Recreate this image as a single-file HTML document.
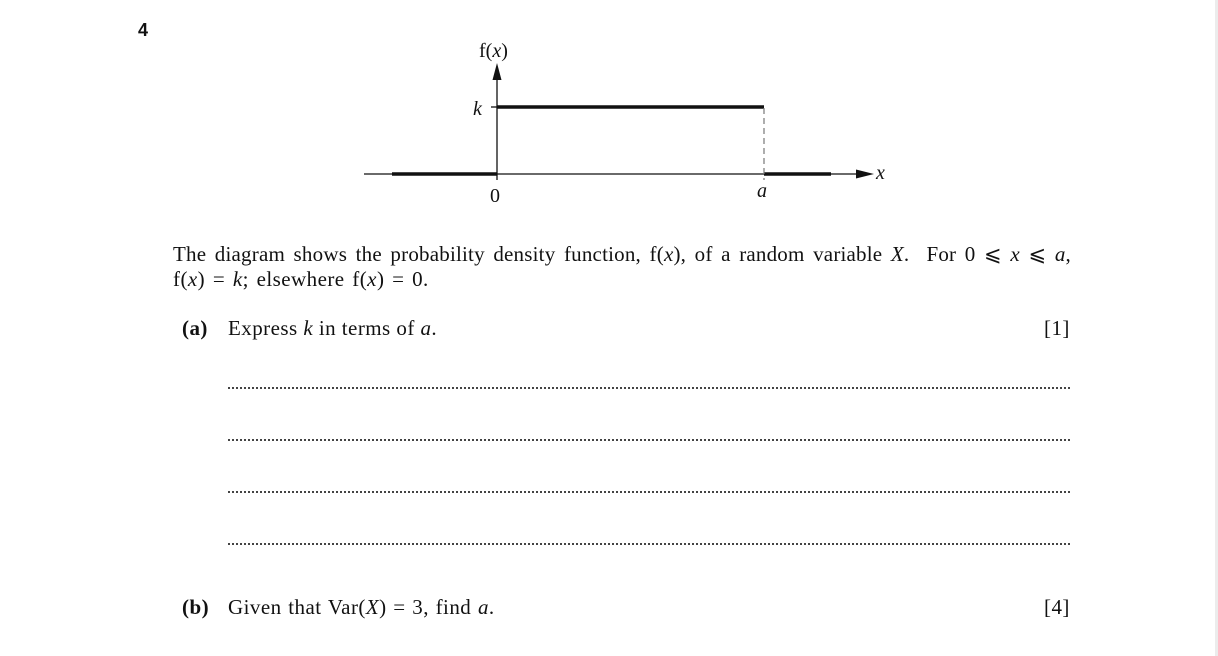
<!DOCTYPE html>
<html><head><meta charset="utf-8"><style>
html,body{margin:0;padding:0;background:#fff;width:1218px;height:656px;overflow:hidden;position:relative}
.t{position:absolute;font-family:"Liberation Serif",serif;font-size:21px;letter-spacing:0.45px;color:#111;white-space:nowrap;line-height:1}
i{font-style:italic}
.dot{position:absolute;left:228px;width:842px;border-top:2px dotted #444;height:0}
</style></head><body>
<div style="position:absolute;right:0;top:0;width:3px;height:656px;background:#ececec"></div>
<div class="t" style="left:138px;top:21px;font-family:'Liberation Sans',sans-serif;font-weight:bold;font-size:18px;letter-spacing:0">4</div>
<svg style="position:absolute;left:0;top:0" width="1218" height="656">
<line x1="364" y1="174" x2="860" y2="174" stroke="#111" stroke-width="1.3"/>
<polygon points="856,169.5 874,174 856,178.5" fill="#111"/>
<line x1="392" y1="174" x2="497" y2="174" stroke="#111" stroke-width="3.5"/>
<line x1="764" y1="174" x2="831" y2="174" stroke="#111" stroke-width="3.5"/>
<line x1="497" y1="180" x2="497" y2="78" stroke="#111" stroke-width="1.3"/>
<polygon points="492.5,80 497,63 501.5,80" fill="#111"/>
<line x1="491" y1="107" x2="497" y2="107" stroke="#111" stroke-width="1.3"/>
<line x1="497" y1="107" x2="764" y2="107" stroke="#111" stroke-width="3.5"/>
<line x1="764" y1="108" x2="764" y2="180" stroke="#777" stroke-width="1.2" stroke-dasharray="6,4"/>
</svg>
<div class="t" style="left:479px;top:41px;font-size:20px;letter-spacing:0">f(<i>x</i>)</div>
<div class="t" style="left:473px;top:99px;font-size:20px"><i>k</i></div>
<div class="t" style="left:490px;top:186px;font-size:20px">0</div>
<div class="t" style="left:757px;top:181px;font-size:20px"><i>a</i></div>
<div class="t" style="left:876px;top:163px;font-size:20px"><i>x</i></div>

<div class="t" style="left:173px;top:244px;width:898px;text-align:justify;text-align-last:justify;letter-spacing:0.2px">The diagram shows the probability density function, f(<i>x</i>), of a random variable <i>X</i>.&nbsp; For 0 ⩽ <i>x</i> ⩽ <i>a</i>,</div>
<div class="t" style="left:173px;top:269px;word-spacing:2px">f(<i>x</i>) = <i>k</i>; elsewhere f(<i>x</i>) = 0.</div>
<div class="t" style="left:182px;top:318px"><b>(a)</b></div>
<div class="t" style="left:228px;top:318px">Express <i>k</i> in terms of <i>a</i>.</div>
<div class="t" style="left:1044px;top:318px">[1]</div>
<div class="dot" style="top:387px"></div>
<div class="dot" style="top:439px"></div>
<div class="dot" style="top:491px"></div>
<div class="dot" style="top:543px"></div>
<div class="t" style="left:182px;top:597px"><b>(b)</b></div>
<div class="t" style="left:228px;top:597px;word-spacing:1px">Given that Var(<i>X</i>) = 3, find <i>a</i>.</div>
<div class="t" style="left:1044px;top:597px">[4]</div>
</body></html>
